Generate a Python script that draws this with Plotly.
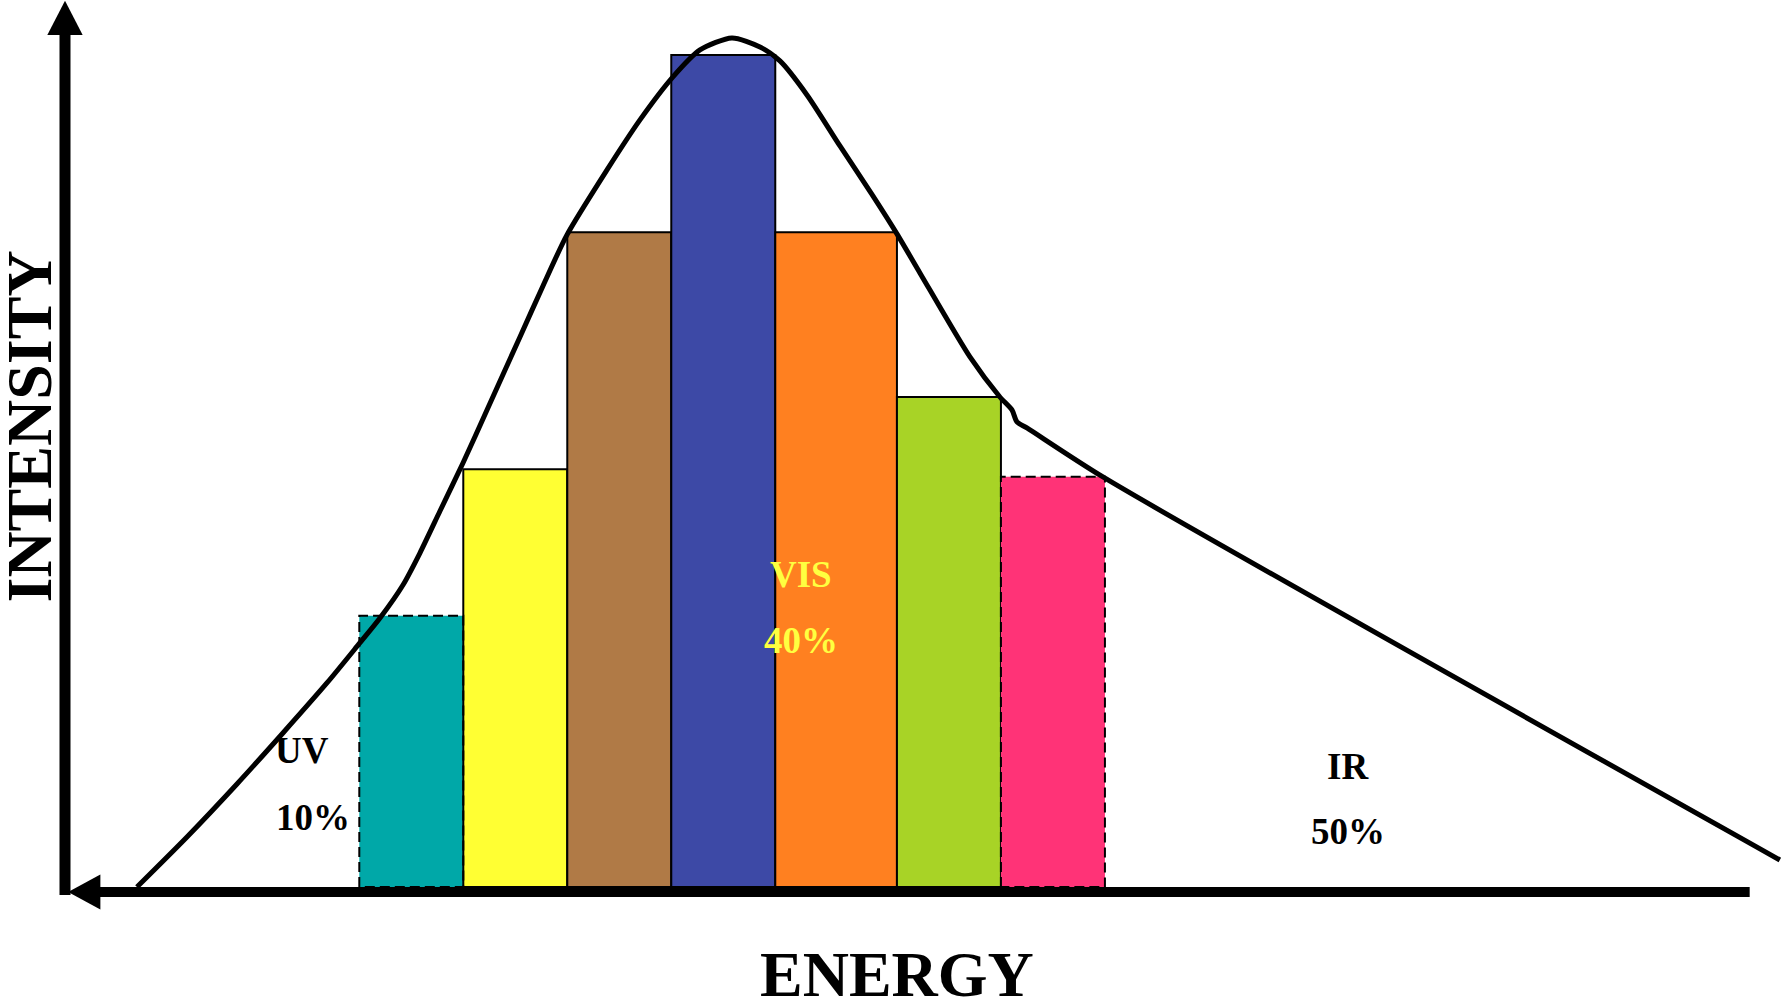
import plotly.graph_objects as go

# ---------------- data ----------------
bar_names = ["UV edge", "Yellow", "Brown", "Blue", "Orange", "Green", "IR edge"]
bar_left = [28.3, 38.3, 48.3, 58.3, 68.3, 80.0, 90.0]
bar_right = [38.3, 48.3, 58.3, 68.3, 80.0, 90.0, 100.0]
bar_height = [32.6, 50.2, 78.7, 100.0, 78.7, 58.9, 49.3]
bar_colors = ["#00A8A8", "#FFFF33", "#B07A46", "#3D49A6", "#FF8020", "#A8D326", "#FF3377"]
bar_dashed = [True, False, False, False, False, False, True]

curve_energy = [6.92, 11.73, 16.54, 20.96, 25.19, 28.27, 30.29, 32.50, 34.13, 36.06,
                38.27, 40.58, 43.75, 45.96, 48.27, 52.12, 55.29, 58.46, 61.06, 64.13,
                66.83, 68.75, 71.35, 74.52, 77.69, 80.00, 82.21, 87.02, 89.90, 91.06,
                91.54, 92.50, 99.81, 164.9]
curve_intensity = [0.00, 6.01, 12.38, 18.51, 24.52, 29.21, 32.33, 36.30, 40.14, 45.19,
                   50.96, 57.33, 66.11, 72.24, 78.37, 86.18, 92.19, 97.36, 100.60, 102.04,
                   100.96, 99.28, 95.19, 89.06, 83.05, 78.49, 73.80, 63.70, 58.89, 57.33,
                   55.89, 55.17, 49.28, 3.25]

region_labels = ["UV", "10%", "VIS", "40%", "IR", "50%"]
region_x = [22.8, 23.8, 70.8, 70.8, 123.4, 123.4]
region_y = [16.4, 8.4, 37.6, 29.6, 14.5, 6.7]
region_colors = ["black", "black", "#FFFF40", "#FFFF40", "black", "black"]

axis_labels = ["ENERGY", "INTENSITY"]

# axis geometry (data units)
X_MIN, X_MAX = -6.25, 165.3
Y_MIN, Y_MAX = -13.94, 106.6
Y_AXIS_TOP, Y_AXIS_HEAD = 106.5, 102.4
X_AXIS_Y, X_AXIS_END, X_AXIS_TIP, X_AXIS_HEAD = -0.6, 162.0, 0.3, 3.4

SERIF = "Times New Roman, Liberation Serif, serif"

fig = go.Figure()

# bars
centers = [(l + r) / 2 for l, r in zip(bar_left, bar_right)]
widths = [r - l for l, r in zip(bar_left, bar_right)]
fig.add_trace(go.Bar(
    x=centers, y=bar_height, width=widths, base=0,
    marker=dict(color=bar_colors,
                line=dict(color=["rgba(0,0,0,0)" if d else "black" for d in bar_dashed], width=2)),
    hoverinfo="skip", showlegend=False,
))

# dashed outlines for edge bands
for l, r, h, d in zip(bar_left, bar_right, bar_height, bar_dashed):
    if d:
        fig.add_trace(go.Scatter(
            x=[l, l, r, r, l], y=[0, h, h, 0, 0], mode="lines",
            line=dict(color="black", width=2, dash="10px,5px"),
            hoverinfo="skip", showlegend=False,
        ))

# intensity curve
fig.add_trace(go.Scatter(
    x=curve_energy, y=curve_intensity, mode="lines",
    line=dict(color="black", width=5, shape="spline", smoothing=0.7),
    hoverinfo="skip", showlegend=False,
))

# axes drawn as arrows
shapes = [
    dict(type="line", xref="x", yref="y", x0=0, x1=0, y0=-0.96, y1=Y_AXIS_HEAD + 0.5,
         line=dict(color="black", width=11)),
    dict(type="path", xref="x", yref="y",
         path=f"M -1.7,{Y_AXIS_HEAD} L 0,{Y_AXIS_TOP} L 1.7,{Y_AXIS_HEAD} Z",
         fillcolor="black", line=dict(width=0)),
    dict(type="line", xref="x", yref="y", x0=X_AXIS_HEAD - 0.5, x1=X_AXIS_END, y0=X_AXIS_Y, y1=X_AXIS_Y,
         line=dict(color="black", width=10)),
    dict(type="path", xref="x", yref="y",
         path=f"M {X_AXIS_HEAD},{X_AXIS_Y + 2.1} L {X_AXIS_TIP},{X_AXIS_Y} L {X_AXIS_HEAD},{X_AXIS_Y - 2.1} Z",
         fillcolor="black", line=dict(width=0)),
]

annotations = []
for t, x, y, c in zip(region_labels, region_x, region_y, region_colors):
    annotations.append(dict(text=f"<b>{t}</b>", x=x, y=y, xref="x", yref="y", showarrow=False,
                            font=dict(family=SERIF, size=37, color=c)))
annotations.append(dict(text=f"<b>{axis_labels[0]}</b>", x=80.0, y=-10.5, xref="x", yref="y",
                        showarrow=False, font=dict(family=SERIF, size=64, color="black")))
annotations.append(dict(text=f"<b>{axis_labels[1]}</b>", x=-3.4, y=55.3, xref="x", yref="y",
                        showarrow=False, textangle=-90,
                        font=dict(family=SERIF, size=64, color="black")))

fig.update_layout(
    width=1784, height=1003,
    margin=dict(l=0, r=0, t=0, b=0),
    paper_bgcolor="white", plot_bgcolor="white",
    barmode="overlay",
    xaxis=dict(range=[X_MIN, X_MAX], visible=False, fixedrange=True),
    yaxis=dict(range=[Y_MIN, Y_MAX], visible=False, fixedrange=True),
    shapes=shapes, annotations=annotations, showlegend=False,
)

fig.write_html("out.html", config={"displayModeBar": False},
               post_script="document.body.style.margin='0px';document.body.style.overflow='hidden';")
